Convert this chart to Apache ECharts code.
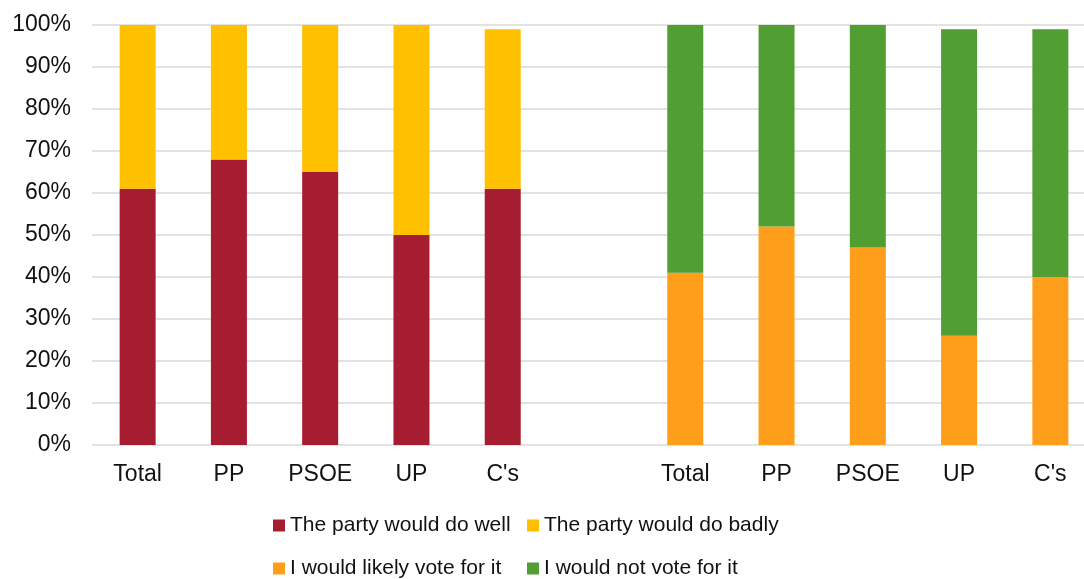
<!DOCTYPE html>
<html>
<head>
<meta charset="utf-8">
<script src="https://cdn.jsdelivr.net/npm/echarts@6/dist/echarts.min.js"></script>
<style>
html,body{margin:0;padding:0;background:#fff;}
#chart{width:1084px;height:579px;}
</style>
</head>
<body>
<div id="chart"></div>
<script>
// Categories: two groups separated by an empty slot
const categories = ['Total', 'PP', 'PSOE', 'UP', "C's", '', 'Total', 'PP', 'PSOE', 'UP', "C's"];
const yTicks = [0, 10, 20, 30, 40, 50, 60, 70, 80, 90, 100];

// Group 1: how the party would do
const doWell  = [61, 68, 65, 50, 61, '-', '-', '-', '-', '-', '-'];
const doBadly = [39, 32, 35, 50, 38, '-', '-', '-', '-', '-', '-'];
// Group 2: vote intention
const voteFor    = ['-', '-', '-', '-', '-', '-', 41, 52, 47, 26, 40];
const notVoteFor = ['-', '-', '-', '-', '-', '-', 59, 48, 53, 73, 59];

const seriesNames = ['The party would do well', 'The party would do badly', 'I would likely vote for it', 'I would not vote for it'];
const colors = ['#A61C30', '#FFC000', '#FF9E1B', '#519E32'];

const font = 'Liberation Sans, Arial, Helvetica, sans-serif';
const chart = echarts.init(document.getElementById('chart'));

function mk(name, data, color) {
  return {
    name: name, type: 'bar', stack: 'all', data: data, barWidth: 36,
    itemStyle: { color: color }, emphasis: { disabled: true }
  };
}

function lg(name, left, top) {
  return {
    data: [name], left: left, top: top, padding: 0,
    itemWidth: 12, itemHeight: 12, icon: 'rect',
    textStyle: { color: '#111', fontSize: 21, fontFamily: font }
  };
}

chart.setOption({
  animation: false,
  color: colors,
  grid: { left: 92, width: 1004, top: 25, height: 420, containLabel: false, outerBoundsMode: 'none' },
  xAxis: {
    type: 'category', data: categories,
    axisLine: { show: false }, axisTick: { show: false },
    axisLabel: { color: '#111', fontSize: 23, fontFamily: font, margin: 18, interval: 0 }
  },
  yAxis: {
    type: 'value', min: yTicks[0], max: yTicks[yTicks.length - 1], interval: 10,
    axisLine: { show: false }, axisTick: { show: false },
    axisLabel: { color: '#111', fontSize: 23, fontFamily: font, margin: 21, formatter: '{value}%' },
    splitLine: { lineStyle: { color: '#d9d9d9', width: 1.5 } }
  },
  legend: [
    lg(seriesNames[0], 273, 515),
    lg(seriesNames[1], 527, 515),
    lg(seriesNames[2], 273, 558),
    lg(seriesNames[3], 527, 558)
  ],
  series: [
    mk(seriesNames[0], doWell, colors[0]),
    mk(seriesNames[1], doBadly, colors[1]),
    mk(seriesNames[2], voteFor, colors[2]),
    mk(seriesNames[3], notVoteFor, colors[3])
  ]
});
</script>
</body>
</html>
